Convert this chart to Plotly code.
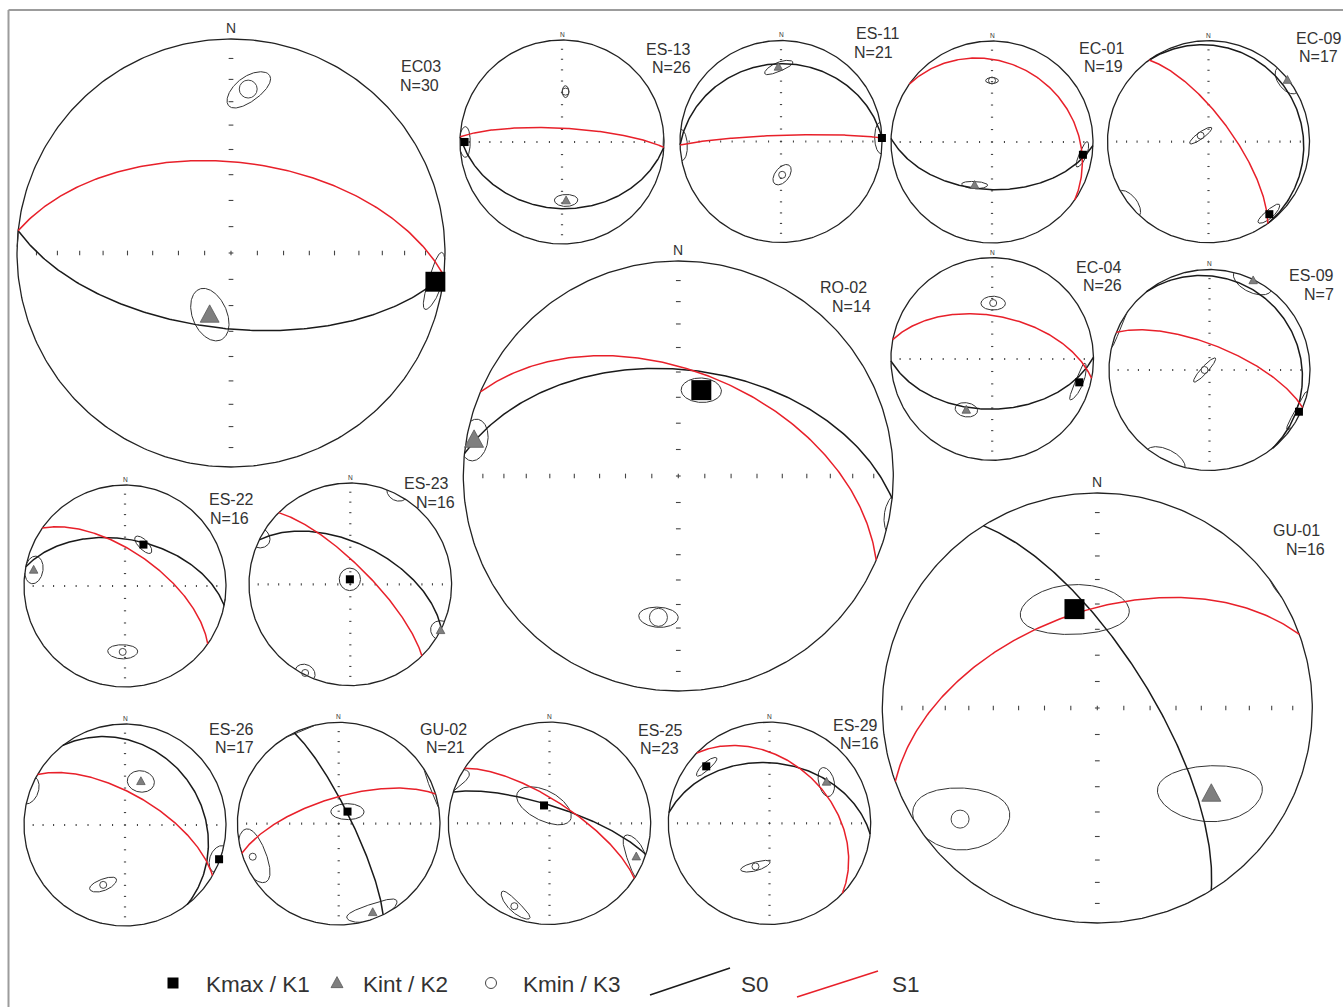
import numpy as np
import plotly.graph_objects as go

W, H = 1343, 1007

# ---------------------------------------------------------------- data
SITES = ["EC03", "ES-13", "ES-11", "EC-01", "EC-09", "RO-02", "EC-04", "ES-09",
         "ES-22", "ES-23", "GU-01", "ES-26", "GU-02", "ES-25", "ES-29"]
N_SPEC = [30, 26, 21, 19, 17, 14, 26, 7, 16, 16, 16, 17, 21, 23, 16]

# bedding (S0) and cleavage (S1) planes: dip direction / dip, degrees
S0_DIPDIR = [186, 183, 358, 182, 54, 6, 179, 51, 11, 26, 58, 52, 64, 18, 6]
S0_DIP = [61, 35, 24, 51, 8, 49, 49, 11, 52, 57, 70, 25, 80, 76, 40]
S1_DIPDIR = [6, 3, 358, 35, 54, 23, 11, 22, 35, 45, 340, 30, 343, 33, 44]
S1_DIP = [55, 79, 85, 23, 71, 50, 55, 70, 63, 75, 53, 65, 69, 72, 39]

# principal susceptibility axes: trend / plunge, degrees
K1_TREND = [98, 270, 88, 98, 140, 15, 105, 115, 24, 355, 347, 110, 36, 343, 312]
K1_PLUNGE = [4, 5, 0, 10, 7, 56, 12, 2, 53, 86, 51, 1, 78, 75, 17]
K2_TREND = [199, 176, 358, 202, 52, 280, 207, 26, 280, 117, 127, 20, 159, 111, 54]
K2_PLUNGE = [65, 42, 27, 52, 1, 4, 43, 1, 9, 0, 34, 52, 7, 9, 31]
K3_TREND = [6, 4, 178, 0, 308, 188, 1, 270, 182, 207, 231, 200, 249, 203, 198]
K3_PLUNGE = [24, 49, 63, 39, 82, 34, 44, 86, 35, 2, 19, 37, 10, 12, 53]

# confidence ellipses: (long semi-axis deg, short semi-axis deg, azimuth of long axis)
K1_ELL = [(8.5, 3.5, 26), (9, 6, 0), (9, 8, 0), (9, 3.6, 35), (8.4, 4.4, 48),
          (7.3, 4.8, 90), (12.5, 4, 27), (12.5, 4.5, 31), (8.7, 4, 139), (9, 8.5, 0),
          (19.6, 9.9, 90), (8, 10, 20), (13.3, 6.4, 90), (24, 12, 118), (8.7, 3.7, 52)]
K2_ELL = [(10.5, 6.5, 160), (8.5, 5.2, 90), (11, 4, 59), (10, 3, 90), (10, 9, 52),
          (6.9, 5.8, 280), (8.5, 6, 90), (13, 12, 26), (9.5, 8.5, 280), (11, 5.5, 117),
          (21, 10, 100), (10.4, 9, 90), (16, 8.5, 74), (20, 7, 141), (11, 6.7, 0)]
K3_ELL = [(10, 4.5, 38), (5, 2.5, 0), (9.5, 5.6, 35), (4.6, 2.7, 90), (10.8, 2.7, 54),
          (6.6, 4.3, 90), (9, 6, 90), (13, 2.7, 42), (10.7, 6.4, 90), (9, 6, 207),
          (20.5, 10.5, 71), (11.5, 4.6, 60), (17.5, 13.5, 339), (13.5, 5, 149), (12, 3.5, 71)]

LEGEND_LABELS = ["Kmax / K1", "Kint / K2", "Kmin / K3", "S0", "S1"]

# ---------------------------------------------------------------- page layout (px)
NET_CX = [231, 562, 781, 992, 1208.5, 678.3, 992.2, 1209.5, 125, 350.3, 1097.3, 125, 338.7, 549.5, 769.5]
NET_CY = [253, 142, 141.5, 142, 141.7, 476, 359, 370, 586, 584.3, 708, 825, 823.7, 823.3, 823.3]
NET_R = [214, 102, 101, 101, 101, 215, 101.3, 100.5, 101, 101.3, 215, 101, 101.3, 101.2, 101.2]
NAME_XY = [(420.5, 67.5), (668.5, 50), (877, 34.5), (1101, 48), (1318, 38), (843, 286),
           (1098, 268.5), (1311, 276.5), (231.5, 500.5), (426.5, 485.5), (1296.5, 529),
           (231.5, 729), (443, 729), (660.5, 731), (855, 726)]
COUNT_XY = [(419.5, 84), (671.5, 67), (873, 51), (1103, 66.7), (1318, 56.7), (851, 307.5),
            (1102.5, 284.5), (1319, 293), (229.5, 517), (435, 500.5), (1305.5, 551),
            (234, 747.5), (445.5, 747.5), (659, 747.5), (859, 742.5)]
LABEL_GAP = 18.5

FONT = "Liberation Sans, Arial, sans-serif"
TXT = "#333333"
RED = "#e8202a"


# ---------------------------------------------------------------- geometry
def vec(trend, plunge):
    t, p = np.radians(trend), np.radians(plunge)
    return np.array([np.cos(p) * np.sin(t), np.cos(p) * np.cos(t), np.sin(p)])


def proj(v, cx, cy, R):
    """Lower-hemisphere equal-area (Schmidt) projection of a unit vector (E, N, Down)."""
    x, y, z = v
    if z < 0:
        x, y, z = -x, -y, -z
    h = np.hypot(x, y)
    r = np.sqrt(max(1.0 - z, 0.0))
    k = r / h if h > 1e-12 else 0.0
    return cx + R * x * k, cy - R * y * k


def plane_points(dipdir, dip, n=181):
    s = np.radians(dipdir - 90)
    strike = np.array([np.sin(s), np.cos(s), 0.0])
    dv = vec(dipdir, dip)
    a = np.linspace(0, np.pi, n)
    return np.outer(np.cos(a), strike) + np.outer(np.sin(a), dv)


def ellipse_points(trend, plunge, a, b, az, n=241):
    T, P = np.radians(trend), np.radians(plunge)
    v = vec(trend, plunge)
    er = np.array([np.sin(P) * np.sin(T), np.sin(P) * np.cos(T), -np.cos(P)])
    et = np.array([np.cos(T), -np.sin(T), 0.0])
    al = np.radians(az - trend)
    m = np.cos(al) * er + np.sin(al) * et
    q = -np.sin(al) * er + np.cos(al) * et
    t = np.linspace(0, 2 * np.pi, n)
    w = np.outer(np.radians(a) * np.cos(t), m) + np.outer(np.radians(b) * np.sin(t), q)
    rho = np.linalg.norm(w, axis=1)
    return np.outer(np.cos(rho), v) + (w / rho[:, None]) * np.sin(rho)[:, None]


def path_xy(pts, cx, cy, R, xs, ys):
    """Append a projected path; split it where it passes through the primitive."""
    prev = None
    for d in pts:
        if prev is not None and (prev[2] < 0) != (d[2] < 0):
            t = prev[2] / (prev[2] - d[2])
            c = prev + t * (d - prev)
            c[2] = 0.0
            c /= np.linalg.norm(c)
            x0, y0 = proj(c if prev[2] >= 0 else -c, cx, cy, R)
            xs.append(x0); ys.append(y0)
            xs.append(None); ys.append(None)
            x1, y1 = proj(c if d[2] >= 0 else -c, cx, cy, R)
            xs.append(x1); ys.append(y1)
        x, y = proj(d, cx, cy, R)
        xs.append(x); ys.append(y)
        prev = d
    xs.append(None); ys.append(None)


def triangle(x, y, w, xs, ys):
    h = 0.92 * w
    xs += [x - w / 2, x + w / 2, x, x - w / 2, None]
    ys += [y + 0.42 * h, y + 0.42 * h, y - 0.58 * h, y + 0.42 * h, None]


# ---------------------------------------------------------------- build traces
frame_x, frame_y = [], []
prim_x, prim_y = [], []
tick_x, tick_y = [], []
s0_x, s0_y = [], []
s1_x, s1_y = [], []
ell_x, ell_y = [], []
tri_x, tri_y = [], []
sq_x, sq_y, sq_s = [], [], []
ci_x, ci_y, ci_s = [], [], []
annotations = []

for i, site in enumerate(SITES):
    cx, cy, R = NET_CX[i], NET_CY[i], NET_R[i]
    f = (R - 101) / 114.0

    # primitive circle
    th = np.linspace(0, 2 * np.pi, 361)
    prim_x += list(cx + R * np.cos(th)) + [None]
    prim_y += list(cy + R * np.sin(th)) + [None]

    # axis ticks every 10 degrees along N-S and E-W
    L = 0.011 * R
    tick_x += [cx - L, cx + L, None, cx, cx, None]
    tick_y += [cy, cy, None, cy - L, cy + L, None]
    for k in range(1, 9):
        rr = R * np.sqrt(1 - np.cos(np.radians(10 * k)))
        for sgn in (-1, 1):
            tick_x += [cx + sgn * rr, cx + sgn * rr, None]
            tick_y += [cy - L, cy + L, None]
            tick_x += [cx - L, cx + L, None]
            tick_y += [cy + sgn * rr, cy + sgn * rr, None]

    # planes
    path_xy(plane_points(S0_DIPDIR[i], S0_DIP[i]), cx, cy, R, s0_x, s0_y)
    path_xy(plane_points(S1_DIPDIR[i], S1_DIP[i]), cx, cy, R, s1_x, s1_y)

    # confidence ellipses
    for tr, pl, el in ((K1_TREND[i], K1_PLUNGE[i], K1_ELL[i]),
                       (K2_TREND[i], K2_PLUNGE[i], K2_ELL[i]),
                       (K3_TREND[i], K3_PLUNGE[i], K3_ELL[i])):
        path_xy(ellipse_points(tr, pl, *el), cx, cy, R, ell_x, ell_y)

    # axes symbols
    x1, y1 = proj(vec(K1_TREND[i], K1_PLUNGE[i]), cx, cy, R)
    sq_x.append(x1); sq_y.append(y1); sq_s.append(8 + 12 * f)
    x2, y2 = proj(vec(K2_TREND[i], K2_PLUNGE[i]), cx, cy, R)
    triangle(x2, y2, 8.5 + 10.5 * f, tri_x, tri_y)
    x3, y3 = proj(vec(K3_TREND[i], K3_PLUNGE[i]), cx, cy, R)
    ci_x.append(x3); ci_y.append(y3); ci_s.append(7 + 11 * f)

    # north mark and site labels (two lines)
    annotations.append(dict(x=cx, y=cy - R - 0.045 * R - 1, text="N", showarrow=False,
                            xanchor="center", yanchor="middle",
                            font=dict(family=FONT, size=round(0.065 * R, 1), color=TXT)))
    mid = (NAME_XY[i][1] + COUNT_XY[i][1]) / 2
    annotations.append(dict(x=NAME_XY[i][0], y=mid - LABEL_GAP / 2, text=site,
                            showarrow=False, xanchor="center", yanchor="middle",
                            font=dict(family=FONT, size=16, color=TXT)))
    annotations.append(dict(x=COUNT_XY[i][0], y=mid + LABEL_GAP / 2, text=f"N={N_SPEC[i]}",
                            showarrow=False, xanchor="center", yanchor="middle",
                            font=dict(family=FONT, size=16, color=TXT)))

# ---------------------------------------------------------------- legend
LY = 983
sq_x.append(173); sq_y.append(LY); sq_s.append(11)
triangle(337, LY, 12, tri_x, tri_y)
ci_x.append(491); ci_y.append(LY); ci_s.append(11)
leg_text_x = [204, 361, 521, 739, 890]
for lx, lab in zip(leg_text_x, LEGEND_LABELS):
    annotations.append(dict(x=lx, y=LY + 1, text=lab, showarrow=False,
                            xanchor="left", yanchor="middle",
                            font=dict(family=FONT, size=22.5, color=TXT)))
s0_x += [650, 730, None]; s0_y += [995, 968, None]
s1_x += [797, 878, None]; s1_y += [997, 971, None]

# outer frame (top and left edges)
frame_x += [8.5, 1343, None, 8.5, 8.5, None]
frame_y += [10, 10, None, 10, 1007, None]

fig = go.Figure()
fig.add_trace(go.Scatter(x=frame_x, y=frame_y, mode="lines",
                         line=dict(color="#9c9c9c", width=2), hoverinfo="skip"))
fig.add_trace(go.Scatter(x=tick_x, y=tick_y, mode="lines",
                         line=dict(color="#444444", width=1.1), hoverinfo="skip"))
fig.add_trace(go.Scatter(x=prim_x, y=prim_y, mode="lines",
                         line=dict(color="#222222", width=1.3), hoverinfo="skip"))
fig.add_trace(go.Scatter(x=ell_x, y=ell_y, mode="lines",
                         line=dict(color="#333333", width=1.0), hoverinfo="skip"))
fig.add_trace(go.Scatter(x=s0_x, y=s0_y, mode="lines",
                         line=dict(color="#1a1a1a", width=1.5), hoverinfo="skip"))
fig.add_trace(go.Scatter(x=s1_x, y=s1_y, mode="lines",
                         line=dict(color=RED, width=1.5), hoverinfo="skip"))
fig.add_trace(go.Scatter(x=tri_x, y=tri_y, mode="lines", fill="toself",
                         fillcolor="#7f7f7f", line=dict(color="#5a5a5a", width=0.8),
                         hoverinfo="skip"))
fig.add_trace(go.Scatter(x=sq_x, y=sq_y, mode="markers",
                         marker=dict(symbol="square", size=sq_s, color="#000000", opacity=1,
                                     line=dict(width=0)), hoverinfo="skip"))
fig.add_trace(go.Scatter(x=ci_x, y=ci_y, mode="markers",
                         marker=dict(symbol="circle", size=ci_s, color="rgba(255,255,255,0)",
                                     opacity=1, line=dict(color="#444444", width=1)),
                         hoverinfo="skip"))

fig.update_layout(
    width=W, height=H, margin=dict(l=0, r=0, t=0, b=0),
    paper_bgcolor="white", plot_bgcolor="white", showlegend=False,
    xaxis=dict(range=[0, W], visible=False, fixedrange=True),
    yaxis=dict(range=[H, 0], visible=False, fixedrange=True),
    annotations=annotations,
)
fig.write_html("out.html")
